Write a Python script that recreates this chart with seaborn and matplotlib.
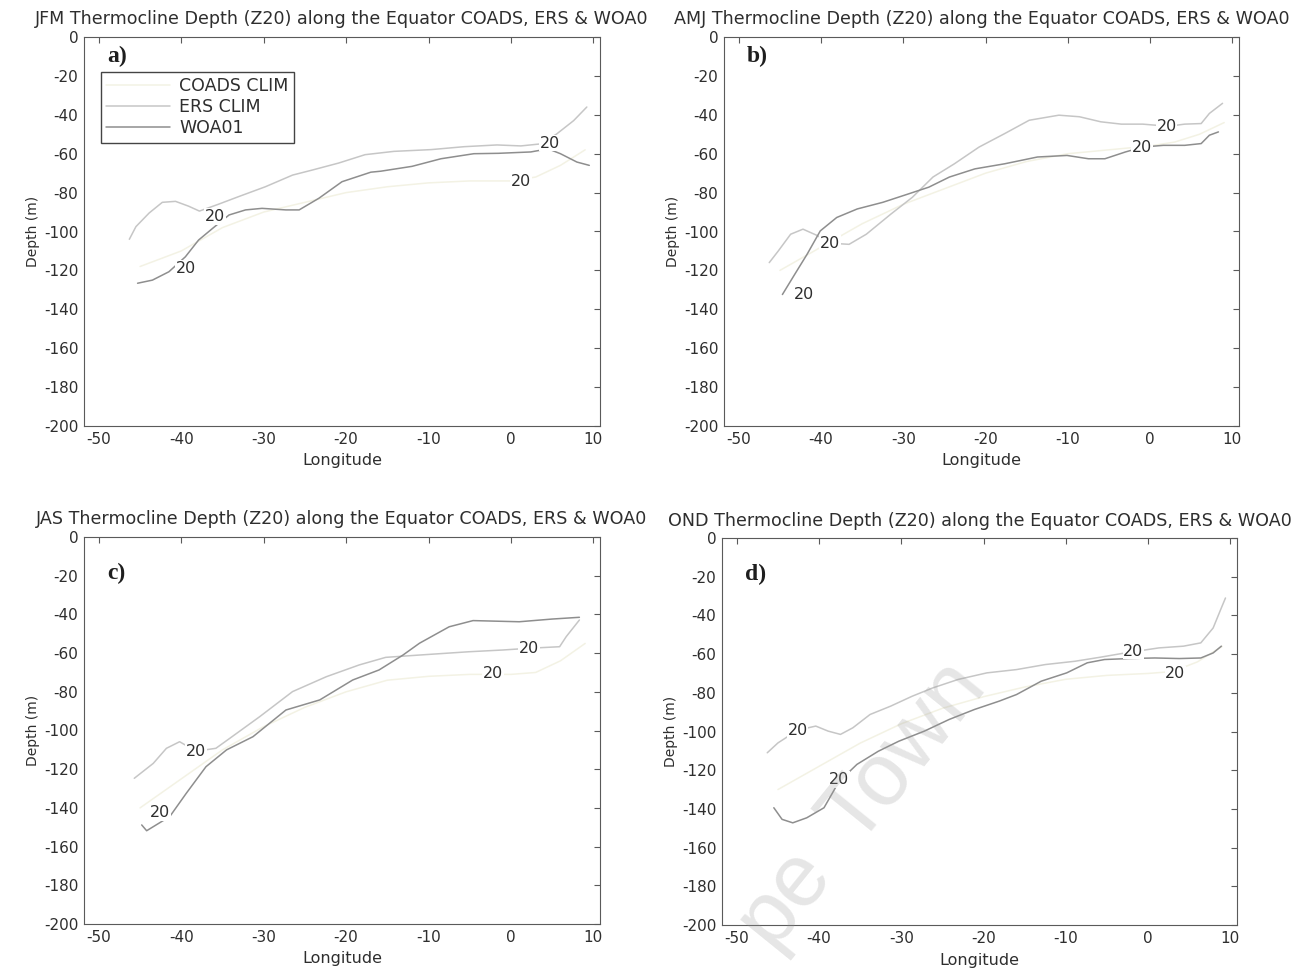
import matplotlib
matplotlib.use("Agg")
import matplotlib.pyplot as plt
import numpy as np
import pandas as pd
import seaborn as sns

# ---------------- 20 degC isotherm depth (m) along the equator ----------------
seasons = ["JFM", "AMJ", "JAS", "OND"]
panel_tags = ["a)", "b)", "c)", "d)"]
series_names = ["COADS CLIM", "ERS CLIM", "WOA01"]
lon_ticks = [-50, -40, -30, -20, -10, 0, 10]
depth_ticks = [0, -20, -40, -60, -80, -100, -120, -140, -160, -180, -200]

# JFM
jfm_coads_lon = [-45, -40, -35, -30, -25, -20, -15, -10, -5, 0, 3, 6, 9]
jfm_coads_dep = [-118, -110, -98, -90, -85, -80, -77, -75, -74, -74, -72, -66, -58]
jfm_ers_lon = [-46.3, -45.5, -43.9, -42.3, -40.7, -39.1, -37.8, -35.5, -33.0, -29.8, -26.5, -24.1,
               -20.9, -17.7, -14.2, -9.7, -5.7, -1.7, 1.2, 3.5, 5.5, 7.6, 9.2]
jfm_ers_dep = [-104, -97.5, -90.5, -85, -84.5, -87, -89.5, -86, -82, -77, -71, -68.4,
               -64.8, -60.5, -58.8, -57.9, -56.4, -55.5, -56, -55, -50, -43, -36]
jfm_woa_lon = [-45.3, -43.5, -41.5, -39.5, -37.9, -36.2, -34.2, -32.2, -30.2, -27.3, -25.7, -23.3,
               -20.5, -17.0, -15.8, -12.0, -8.5, -4.5, -1.5, 2.4, 4.5, 6.0, 8.0, 9.5]
jfm_woa_dep = [-126.6, -125, -120.7, -113, -104.4, -98.4, -91.5, -88.9, -88.1, -88.9, -88.9, -82.9,
               -74.4, -69.5, -69, -66.5, -62.6, -60, -59.8, -59.1, -57.5, -60, -64.3, -66]

# AMJ
amj_coads_lon = [-45, -40, -35, -30, -25, -20, -15, -10, -5, 0, 3, 6, 9]
amj_coads_dep = [-120, -108, -96, -86, -78, -70, -64, -60, -58, -56, -54, -50, -44]
amj_ers_lon = [-46.3, -45.2, -43.7, -42.2, -40.5, -38.9, -36.6, -34.5, -31.5, -28.9, -26.4, -23.8,
               -20.8, -17.7, -14.7, -11.1, -8.6, -6.0, -3.5, -0.9, 2.2, 4.2, 6.2, 7.2, 8.8]
amj_ers_dep = [-116, -110, -101.4, -98.8, -102, -106, -106.6, -101.4, -91, -82.4, -72, -65.2,
               -56.6, -49.7, -42.8, -40.2, -41, -43.6, -44.8, -44.8, -45.9, -44.8, -44.5, -39.3, -34.1]
amj_woa_lon = [-44.7, -43.2, -41.7, -40.1, -38.1, -35.6, -32.5, -29.4, -26.9, -24.4, -21.3, -17.7,
               -13.7, -10.1, -7.5, -5.5, -3.0, -0.9, 1.6, 4.2, 6.2, 7.2, 8.3]
amj_woa_dep = [-132.4, -122, -111.7, -99.7, -92.8, -88.4, -85, -80.7, -77.2, -72, -67.8, -65.2,
               -61.7, -60.9, -62.6, -62.6, -59.1, -56.6, -55.7, -55.7, -54.8, -50.5, -48.8]

# JAS
jas_coads_lon = [-45, -40, -35, -30, -25, -20, -15, -10, -5, 0, 3, 6, 9]
jas_coads_dep = [-140, -125, -110, -98, -88, -80, -74, -72, -71, -71, -70, -64, -55]
jas_ers_lon = [-45.7, -43.4, -41.8, -40.2, -38.2, -35.8, -34.1, -30.5, -26.5, -22.4, -18.4, -15.2,
               -11.1, -5.1, -1.0, 2.2, 5.9, 6.7, 8.3]
jas_ers_dep = [-124.7, -117, -109.2, -105.8, -110.7, -109.2, -104, -92.9, -79.9, -72.2, -66.1, -62.2,
               -61, -59.3, -58.4, -57.5, -56.7, -51.5, -42.9]
jas_woa_lon = [-44.8, -44.2, -41.4, -39.4, -37.0, -34.5, -31.3, -27.3, -23.2, -19.2, -16.0, -13.1,
               -11.1, -7.5, -4.6, 1.0, 5.0, 8.3]
jas_woa_dep = [-148.8, -151.8, -144.5, -132.5, -118.7, -110, -103.2, -89.4, -84.2, -73.9, -68.7, -61,
               -54.9, -46.4, -43.2, -43.8, -42.4, -41.5]

# OND
ond_coads_lon = [-45, -40, -35, -30, -25, -20, -15, -10, -5, 0, 3, 6, 9]
ond_coads_dep = [-130, -118, -106, -96, -88, -82, -77, -73, -71, -70, -69, -64, -56]
ond_ers_lon = [-46.3, -45.0, -42.6, -40.4, -38.9, -37.4, -35.9, -33.8, -31.3, -28.7, -26.2, -23.1,
               -19.6, -16.0, -12.5, -8.9, -5.8, -2.8, 1.3, 4.3, 6.4, 7.9, 8.9, 9.4]
ond_ers_dep = [-111, -105.9, -99.3, -97.2, -99.8, -101.5, -98.1, -91.2, -86.9, -81.8, -77.5, -73.1,
               -69.7, -68, -65.4, -63.7, -61.6, -59.4, -56.8, -55.9, -54.2, -46.5, -36.1, -31]
ond_woa_lon = [-45.5, -44.5, -43.2, -41.5, -39.4, -37.6, -35.4, -32.8, -30.3, -27.2, -24.2, -21.1,
               -18.1, -16.0, -13.0, -9.9, -7.4, -5.3, -2.3, 0.8, 3.8, 6.4, 7.9, 8.9]
ond_woa_dep = [-139.4, -145.4, -147.2, -144.6, -139.4, -126, -117, -110.2, -105, -99.8, -93.8, -88.6,
               -84.3, -80.9, -74, -69.7, -64.5, -62.8, -62.3, -62, -62.3, -62, -59.4, -55.9]

# positions of the inline "20" isotherm labels (lon, depth)
jfm_label_lon = [-39.4, -35.9, 1.2, 4.7]
jfm_label_dep = [-118.9, -92.3, -74.2, -54.5]
amj_label_lon = [-38.9, -42.1, 2.0, -1.0]
amj_label_dep = [-106, -132.4, -45.8, -56.6]
jas_label_lon = [-38.2, -42.6, 2.2, -2.2]
jas_label_dep = [-110.7, -142.6, -57.5, -70.5]
ond_label_lon = [-42.6, -37.6, -1.8, 3.3]
ond_label_dep = [-99.3, -124.8, -58.5, -70.2]

panels = [
    (jfm_coads_lon, jfm_coads_dep, jfm_ers_lon, jfm_ers_dep, jfm_woa_lon, jfm_woa_dep,
     jfm_label_lon, jfm_label_dep),
    (amj_coads_lon, amj_coads_dep, amj_ers_lon, amj_ers_dep, amj_woa_lon, amj_woa_dep,
     amj_label_lon, amj_label_dep),
    (jas_coads_lon, jas_coads_dep, jas_ers_lon, jas_ers_dep, jas_woa_lon, jas_woa_dep,
     jas_label_lon, jas_label_dep),
    (ond_coads_lon, ond_coads_dep, ond_ers_lon, ond_ers_dep, ond_woa_lon, ond_woa_dep,
     ond_label_lon, ond_label_dep),
]

# ---------------- styling ----------------
sns.set_theme(style="white")
plt.rcParams["font.family"] = ["DejaVu Sans"]
plt.rcParams["axes.unicode_minus"] = False

palette = {"COADS CLIM": "#f3f2e4", "ERS CLIM": "#c6c6c6", "WOA01": "#8e8e8e"}
axis_grey = "#5a5a5a"
text_grey = "#2e2e2e"

fig = plt.figure(figsize=(12.93, 9.69), dpi=100)
W, H = 1293.0, 969.0
# axes boxes in pixels: (left, right, top, bottom)
boxes = [(84, 600, 37, 426), (724, 1239, 37, 426), (84, 600, 537, 924), (722, 1237, 538, 925)]

for i, (box, season, tag, pdata) in enumerate(zip(boxes, seasons, panel_tags, panels)):
    l, r, t, b = box
    ax = fig.add_axes([l / W, 1 - b / H, (r - l) / W, (b - t) / H])
    c_lon, c_dep, e_lon, e_dep, w_lon, w_dep, lab_lon, lab_dep = pdata
    df = pd.concat([
        pd.DataFrame({"lon": c_lon, "depth": c_dep, "series": "COADS CLIM"}),
        pd.DataFrame({"lon": e_lon, "depth": e_dep, "series": "ERS CLIM"}),
        pd.DataFrame({"lon": w_lon, "depth": w_dep, "series": "WOA01"}),
    ], ignore_index=True)
    sns.lineplot(data=df, x="lon", y="depth", hue="series", hue_order=series_names,
                 palette=palette, sort=False, estimator=None, linewidth=1.1,
                 legend=(i == 0), ax=ax)

    for x, y in zip(lab_lon, lab_dep):
        ax.text(x, y, "20", ha="center", va="center", fontsize=11.5, color=text_grey,
                bbox=dict(facecolor="white", edgecolor="none", pad=0.5), zorder=5)

    ax.set_xlim(-51.8, 10.8)
    ax.set_ylim(-200, 0)
    ax.set_xticks(lon_ticks)
    ax.set_yticks(depth_ticks)
    ax.set_xlabel("Longitude", fontsize=11.5, color=text_grey, labelpad=5)
    ax.set_ylabel("Depth (m)", fontsize=10, color=text_grey, labelpad=3)
    ax.set_title(f"{season} Thermocline Depth (Z20) along the Equator COADS, ERS & WOA0",
                 fontsize=12.6, color=text_grey, pad=9)
    ax.tick_params(direction="in", length=4, width=0.8, color=axis_grey, labelsize=11,
                   labelcolor=text_grey, top=True, right=True, pad=4)
    for sp in ax.spines.values():
        sp.set_color(axis_grey)
        sp.set_linewidth(0.8)

    ax.text(0.045, 0.95 if i < 2 else 0.905, tag, transform=ax.transAxes,
            fontsize=17, fontweight="bold", family=["Liberation Serif", "DejaVu Serif"],
            color="#1e1e1e", ha="left", va="center")

    if i == 0:
        handles, labels = ax.get_legend_handles_labels()
        ax.legend(handles, labels, loc="upper left", bbox_to_anchor=(0.033, 0.91),
                  frameon=True, fancybox=False, edgecolor="#444444", framealpha=1,
                  fontsize=12.5, handlelength=3.7, borderpad=0.3, labelspacing=0.18,
                  handletextpad=0.5, borderaxespad=0)
        for txt in ax.get_legend().get_texts():
            txt.set_color(text_grey)

# faint diagonal watermark (the visible part of it)
wm = dict(rotation=51, rotation_mode="anchor", ha="center", va="center", fontsize=64,
          color="#9a9a9a", alpha=0.25, zorder=10, family=["Liberation Sans", "DejaVu Sans"])
fig.text(905 / W, 1 - 752 / H, "Town", **wm)
fig.text(784 / W, 1 - 896 / H, "pe", **wm)

fig.savefig("out.png", dpi=100)
